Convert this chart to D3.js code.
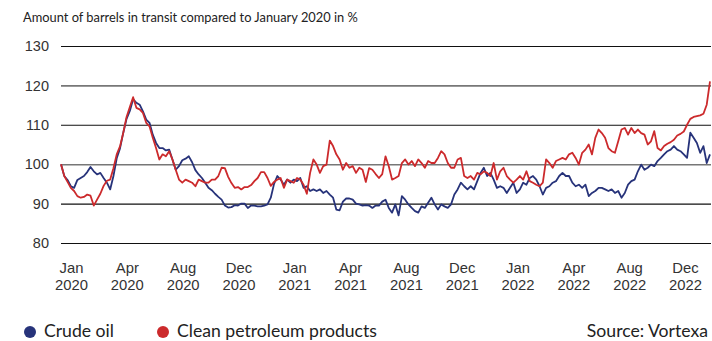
<!DOCTYPE html>
<html>
<head>
<meta charset="utf-8">
<script src="https://cdn.jsdelivr.net/npm/d3@7"></script>
<style>
  body { margin: 0; background: #fff; }
  svg { display: block; font-family: Lato, "Open Sans", sans-serif; }
</style>
</head>
<body>
<svg id="chart" width="712" height="341"></svg>
<script>
// values, roughly every 3 px along the x axis
const crudeOil = [
  100, 97, 96, 94.4, 94, 96, 96.5, 97, 98, 99.3, 98.2, 97.4, 97.8, 96.5, 95.3, 93.6, 97, 101.5, 104, 108, 111.5, 113.5, 116.5, 115.6, 115.1, 113.4, 111.3, 110.5, 107.5, 105.4, 104.1, 104.1, 103.5,
  103.7, 101.2, 98.6, 99.5, 101, 101.4, 102, 100.5, 98.5, 97.4, 96.5, 95.3, 94, 93.4, 92.5, 91.7, 91, 89.5, 89, 89.1, 89.6, 89.5, 90, 90, 88.9, 89.5, 89.5, 89.3, 89.3, 89.5, 89.8, 91.5, 95,
  97, 96.1, 94.8, 96.1, 95.3, 96.1, 95.7, 96.5, 94, 94.4, 93.2, 93.6, 93.2, 93.6, 92.7, 93.2, 92.3, 91.5, 88.5, 88.3, 90.5, 91.3, 91.3, 91, 90, 89.8, 89.5, 89.6, 89.5, 88.9, 89.5, 89.5, 90.5,
  91, 88.9, 87.7, 89.8, 87, 91.9, 91, 89.8, 88.9, 88.1, 87.7, 89.3, 88.9, 90.2, 91.5, 89.8, 88.5, 89.8, 89.3, 88.9, 89.8, 92.3, 93.6, 95.3, 94.4, 93.6, 94.4, 93.6, 95.7, 97.8, 99.1, 97, 97.8,
  96.1, 94, 94.4, 94, 92.7, 94, 95.3, 92.7, 93.6, 95.3, 94.8, 96.5, 97, 96.1, 94.4, 92.3, 94, 94.4, 95.3, 95.7, 97, 97.8, 97, 97, 95.3, 94.4, 94.8, 94, 94.8, 91.9, 92.7, 93.2, 94,
  94, 93.6, 93.2, 93.6, 92.7, 93.2, 91.5, 92.7, 94.8, 95.7, 96.1, 98.2, 99.9, 98.6, 99.1, 99.9, 99.5, 100.8, 101.6, 102.5, 103.3, 103.7, 104.6, 103.7, 103.3, 102.5, 101.6, 108, 106.7, 105.4, 102.9, 104.6, 100.3, 102.5
];

const cleanProducts = [
  100, 97, 95.5, 94, 93.2, 91.9, 91.5, 91.7, 92.3, 92, 89.5, 91, 92.5, 94.5, 95.8, 96.1, 99, 102.5, 104.5, 108, 112, 114.5, 117, 114.3, 113.9, 113, 110.5, 109.6, 106.7, 104.1, 101.2, 102.5, 102,
  103.3, 101.2, 98.6, 96.1, 95.3, 96.1, 95.7, 95.3, 94.4, 96.1, 95.7, 95.3, 95.3, 96.1, 96.1, 97, 99.1, 99, 96.8, 95.2, 94, 94.2, 93.6, 94.2, 94.2, 94.7, 95.7, 96.5, 98, 98, 96.5, 94.5, 95.5,
  96.1, 96.5, 94, 96.1, 95.7, 95.3, 96.5, 96.1, 94.8, 92.5, 97.8, 101.2, 99.9, 97.8, 99.5, 99.9, 106, 104.6, 102.5, 101.2, 98.6, 100.3, 99.1, 99.5, 97.8, 99.1, 98.6, 95.5, 99, 98.6, 97.5, 96.5, 97.5,
  102, 99.5, 96.1, 96.5, 97, 100.3, 101.2, 99.9, 100.8, 99.5, 101.2, 100.3, 99.1, 100.8, 100.3, 100.3, 101.6, 103.3, 102.5, 100.3, 99.1, 99.1, 101.2, 101.6, 97, 96.5, 97, 96.1, 97.8, 97.4, 98.2, 97.8, 97,
  100.3, 96.1, 98.2, 99.1, 97, 96.1, 95.3, 96.1, 97, 96.1, 98.2, 95.7, 95.3, 94.8, 94.4, 95.3, 101.2, 100.3, 99.1, 100.8, 101.2, 101.6, 101.2, 102.5, 102.9, 101.6, 99.9, 102.9, 103.7, 105, 102.5, 106.7, 108.8,
  107.9, 106.7, 104.1, 103.3, 102.9, 105.8, 108.8, 109.2, 107.5, 109.2, 107.9, 108.8, 107.9, 107.5, 105, 105.8, 108.4, 104.1, 103.5, 104.6, 105.2, 105.6, 106.2, 107.3, 107.7, 108.3, 110, 111.5, 112, 112.2, 112.4, 112.8, 115.1, 121
];

const tickLabels = ["Jan 2020", "Apr 2020", "Aug 2020", "Dec 2020", "Jan 2021", "Apr 2021",
  "Aug 2021", "Dec 2021", "Jan 2022", "Apr 2022", "Aug 2022", "Dec 2022"];
const yTicks = [80, 90, 100, 110, 120, 130];

const seriesNames = ["Crude oil", "Clean petroleum products"];
const seriesColors = ["#27337a", "#cc2a2c"];

const svg = d3.select("#chart");
const plot = { left: 61, right: 711, top: 46, bottom: 243 };

const x = d3.scaleLinear().domain([0, crudeOil.length - 1]).range([plot.left, 710]);
const y = d3.scaleLinear().domain([80, 130]).range([plot.bottom, plot.top]);
const xLabels = d3.scalePoint().domain(tickLabels).range([71, 685]);

// scale a text's font so it spans a given width
function fitWidth(sel, target) {
  const w = sel.node().getComputedTextLength();
  const fs = +sel.attr("font-size");
  sel.attr("font-size", (fs * target / w).toFixed(2));
  return +sel.attr("font-size");
}

// title
const title = svg.append("text")
  .attr("x", 23).attr("y", 22)
  .attr("font-size", 13).attr("fill", "#222")
  .text("Amount of barrels in transit compared to January 2020 in %");
fitWidth(title, 335);

// y axis + gridlines
const yAxis = svg.append("g")
  .attr("transform", `translate(${plot.left},0)`)
  .call(d3.axisLeft(y).tickValues(yTicks).tickSize(-(plot.right - plot.left)).tickPadding(12));
yAxis.select(".domain").remove();
yAxis.selectAll(".tick line")
  .attr("stroke", d => (d === 100 || d === 120) ? "#777" : "#111")
  .attr("stroke-width", d => (d === 100 || d === 120) ? 1.6 : 1.1);
yAxis.selectAll(".tick text").attr("font-size", 14.5).attr("fill", "#333").attr("font-family", null);

// x axis labels (two lines each)
const xAxis = svg.append("g")
  .attr("transform", `translate(0,${plot.bottom})`)
  .call(d3.axisBottom(xLabels).tickSize(0).tickFormat(""));
xAxis.select(".domain").remove();
xAxis.selectAll(".tick").each(function(d) {
  const parts = d.split(" ");
  const t = d3.select(this).append("text")
    .attr("text-anchor", "middle")
    .attr("font-size", 14.8).attr("fill", "#333");
  t.append("tspan").attr("x", 0).attr("y", 30).text(parts[0]);
  t.append("tspan").attr("x", 0).attr("y", 47).text(parts[1]);
});

// lines
const line = d3.line()
  .x((d, i) => x(i))
  .y(d => y(d));

[crudeOil, cleanProducts].forEach((vals, i) => {
  svg.append("path")
    .datum(vals)
    .attr("fill", "none")
    .attr("stroke", seriesColors[i])
    .attr("stroke-width", 1.8)
    .attr("stroke-linejoin", "round")
    .attr("d", line);
});

// legend
const legendX = [30, 163];
const legendTexts = seriesNames.map((name, i) => {
  const g = svg.append("g").attr("transform", `translate(${legendX[i]},332)`);
  g.append("circle").attr("r", 6).attr("fill", seriesColors[i]);
  return g.append("text").attr("x", 14).attr("y", 5)
    .attr("font-size", 17).attr("fill", "#222")
    .text(name);
});
const legendSize = fitWidth(legendTexts[1], 200);
legendTexts[0].attr("font-size", legendSize);

svg.append("text")
  .attr("x", 708).attr("y", 337)
  .attr("text-anchor", "end")
  .attr("font-size", legendSize).attr("fill", "#222")
  .text("Source: Vortexa");
</script>
</body>
</html>
